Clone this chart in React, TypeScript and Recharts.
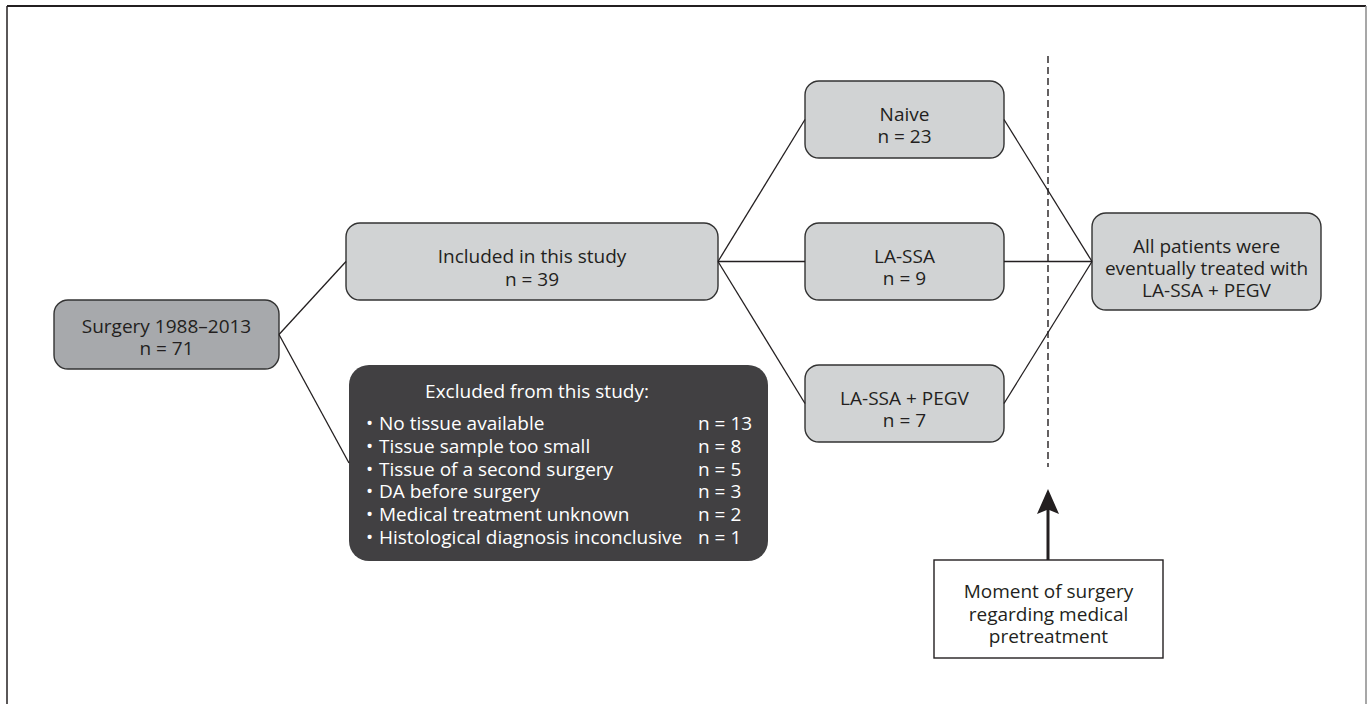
import React from "react";
import {
  ComposedChart,
  XAxis,
  YAxis,
  ReferenceArea,
  ReferenceLine,
  Scatter,
} from "recharts";

// Flow counts
const totalN = 71;
const includedN = 39;
const groupNames = ["Naive", "LA-SSA", "LA-SSA + PEGV"];
const groupCounts = [23, 9, 7];
const exclusionReasons = [
  "No tissue available",
  "Tissue sample too small",
  "Tissue of a second surgery",
  "DA before surgery",
  "Medical treatment unknown",
  "Histological diagnosis inconclusive",
];
const exclusionCounts = [13, 8, 5, 3, 2, 1];
const finalLines = ["All patients were", "eventually treated with", "LA-SSA + PEGV"];
const noteLines = ["Moment of surgery", "regarding medical", "pretreatment"];

// Layout in page pixels (the axes map 1:1 onto the svg)
const W = 1367;
const H = 704;
const surgeryBox = { x1: 54, x2: 279, y1: 300, y2: 369 };
const includedBox = { x1: 346, x2: 718, y1: 223, y2: 300 };
const excludedBox = { x1: 349, x2: 768, y1: 365, y2: 561 };
const groupBoxes = [
  { x1: 805, x2: 1004, y1: 81, y2: 158 },
  { x1: 805, x2: 1004, y1: 223, y2: 300 },
  { x1: 805, x2: 1004, y1: 365, y2: 442 },
];
const finalBox = { x1: 1092, x2: 1321, y1: 213, y2: 310 };
const noteBox = { x1: 934, x2: 1163, y1: 560, y2: 658 };
const cutX = 1048;

const FONT = "'Open Sans', 'Noto Sans', sans-serif";
const FS = 19;
const INK = "#231f20";
const LIGHT = "#d1d3d4";
const MID = "#a7a9ac";
const DARK = "#414042";

type Rect = { x1: number; x2: number; y1: number; y2: number };
const midY = (b: Rect) => (b.y1 + b.y2) / 2;

const connectors: { x: number; y: number }[][] = [
  [{ x: surgeryBox.x2, y: midY(surgeryBox) }, { x: includedBox.x1, y: midY(includedBox) }],
  [{ x: surgeryBox.x2, y: midY(surgeryBox) }, { x: excludedBox.x1, y: midY(excludedBox) }],
  ...groupBoxes.map((b) => [
    { x: includedBox.x2, y: midY(includedBox) },
    { x: b.x1, y: midY(b) },
  ]),
  ...groupBoxes.map((b) => [
    { x: b.x2, y: midY(b) },
    { x: finalBox.x1, y: midY(finalBox) },
  ]),
];

// rounded box with centred multi-line label (one <text>, one tspan per line)
function TextBox(props: any) {
  const { x, y, width, height, lines, fill, radius, stroke, lineH, shift = 0 } = props;
  const cx = x + width / 2;
  const cy = y + height / 2 + shift;
  const n = lines.length;
  return (
    <g>
      <rect
        x={x}
        y={y}
        width={width}
        height={height}
        rx={radius}
        ry={radius}
        fill={fill}
        stroke={stroke}
        strokeWidth={1.4}
      />
      <text textAnchor="middle" fontFamily={FONT} fontSize={FS} fill={INK}>
        {lines.map((l: string, i: number) => (
          <tspan key={i} x={cx} y={cy + (i - (n - 1) / 2) * lineH} dy="0.35em">
            {l}
          </tspan>
        ))}
      </text>
    </g>
  );
}

function ExcludedBox(props: any) {
  const { x, y, width, height } = props;
  const rowY = (i: number) => y + 65 + i * 22.8;
  return (
    <g fontFamily={FONT} fontSize={FS} fill="#ffffff">
      <rect x={x} y={y} width={width} height={height} rx={20} ry={20} fill={DARK} />
      <text x={x + 188} y={y + 33} textAnchor="middle">
        Excluded from this study:
      </text>
      <text>
        {exclusionReasons.map((r, i) => (
          <tspan key={r} x={x + 17} y={rowY(i)}>
            •
          </tspan>
        ))}
      </text>
      <text>
        {exclusionReasons.map((r, i) => (
          <tspan key={r} x={x + 30} y={rowY(i)}>
            {r}
          </tspan>
        ))}
      </text>
      <text>
        {exclusionCounts.map((c, i) => (
          <tspan key={i} x={x + 349} y={rowY(i)}>
            n = {c}
          </tspan>
        ))}
      </text>
    </g>
  );
}

const arrowHead = [{ x: cutX, y: 501.5 }];

function ArrowHead(props: any) {
  const { cx, cy } = props;
  return (
    <path
      d={`M${cx},${cy - 12.5} L${cx + 11},${cy + 12.5} L${cx},${cy + 8} L${cx - 11},${cy + 12.5} Z`}
      fill={INK}
    />
  );
}

function box(b: Rect, key: string, shape: (p: any) => React.ReactElement) {
  return (
    <ReferenceArea
      key={key}
      x1={b.x1}
      x2={b.x2}
      y1={b.y1}
      y2={b.y2}
      ifOverflow="visible"
      shape={shape}
    />
  );
}

export default function App() {
  return (
    <div style={{ position: "absolute", left: 0, top: 0, background: "#fff" }}>
      <ComposedChart width={W} height={H} margin={{ top: 0, right: 0, bottom: 0, left: 0 }}>
        <XAxis type="number" dataKey="x" domain={[0, W]} hide allowDataOverflow />
        <YAxis type="number" dataKey="y" domain={[0, H]} reversed hide allowDataOverflow />

        {/* page frame */}
        <ReferenceLine segment={[{ x: 7, y: 6 }, { x: 1366, y: 6 }]} stroke={INK} strokeWidth={2} ifOverflow="visible" />
        <ReferenceLine segment={[{ x: 7, y: 6 }, { x: 7, y: H }]} stroke={INK} strokeWidth={1.5} ifOverflow="visible" />
        <ReferenceLine segment={[{ x: 1366, y: 6 }, { x: 1366, y: H }]} stroke="#8a8a8a" strokeWidth={1.5} ifOverflow="visible" />

        {connectors.map((seg, i) => (
          <ReferenceLine key={`c${i}`} segment={seg} stroke={INK} strokeWidth={1.3} ifOverflow="visible" />
        ))}

        {/* moment-of-surgery cut */}
        <ReferenceLine
          segment={[{ x: cutX, y: 56 }, { x: cutX, y: 467 }]}
          stroke={INK}
          strokeWidth={1.4}
          strokeDasharray="7 4"
          ifOverflow="visible"
        />
        <ReferenceLine
          segment={[{ x: cutX, y: noteBox.y1 }, { x: cutX, y: 508 }]}
          stroke={INK}
          strokeWidth={3}
          ifOverflow="visible"
        />

        {box(surgeryBox, "surgery", (p) => (
          <TextBox {...p} lines={["Surgery 1988–2013", `n = ${totalN}`]} fill={MID} stroke="#333" radius={14} lineH={21.5} shift={3} />
        ))}
        {box(includedBox, "included", (p) => (
          <TextBox {...p} lines={["Included in this study", `n = ${includedN}`]} fill={LIGHT} stroke="#333" radius={14} lineH={23} shift={6} />
        ))}
        {box(excludedBox, "excluded", (p) => <ExcludedBox {...p} />)}
        {groupBoxes.map((b, i) =>
          box(b, `g${i}`, (p) => (
            <TextBox {...p} lines={[groupNames[i], `n = ${groupCounts[i]}`]} fill={LIGHT} stroke="#333" radius={14} lineH={22.5} shift={6} />
          ))
        )}
        {box(finalBox, "final", (p) => (
          <TextBox {...p} lines={finalLines} fill={LIGHT} stroke="#333" radius={14} lineH={22} shift={7} />
        ))}
        {box(noteBox, "note", (p) => (
          <TextBox {...p} lines={noteLines} fill="#ffffff" stroke={INK} radius={0} lineH={22.5} shift={5} />
        ))}

        <Scatter data={arrowHead} shape={(p: any) => <ArrowHead {...p} />} isAnimationActive={false} />
      </ComposedChart>
    </div>
  );
}
